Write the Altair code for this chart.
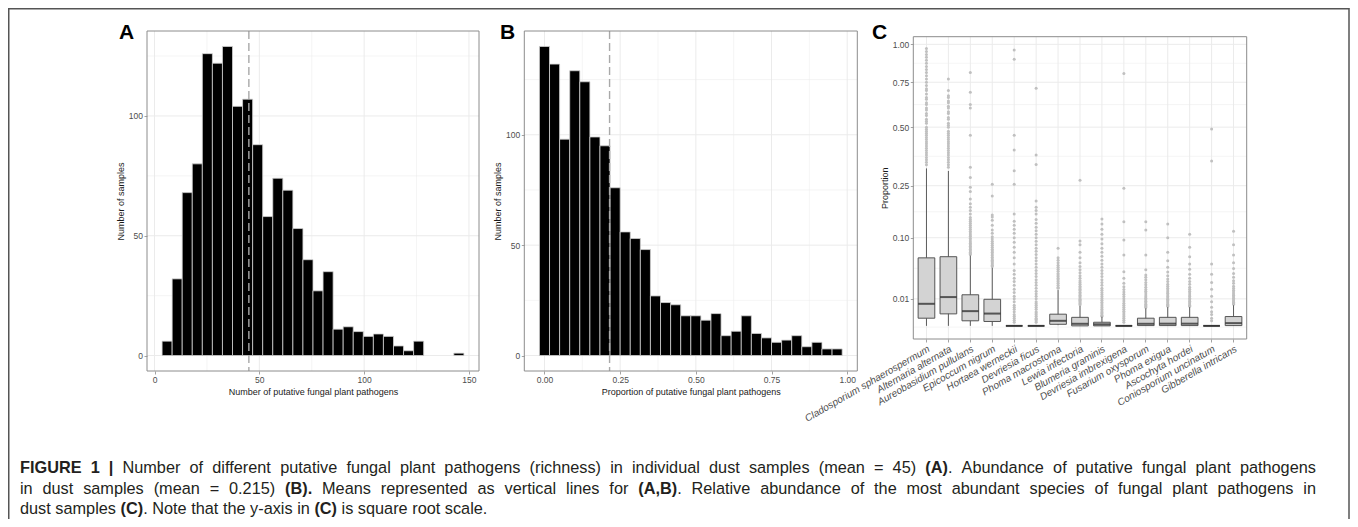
import altair as alt
import pandas as pd

# ---------------- data ----------------
# Panel A: richness histogram (30 bins)
countsA = [6, 32, 68, 80, 126, 122, 129, 104, 107, 88, 58, 74, 69, 53, 40,
           27, 35, 11, 12, 10, 8, 9, 8, 4, 2, 6, 0, 0, 0, 1]
binA_first_edge = 3.6
binA_width = 4.8
meanA = 45

# Panel B: proportion histogram (30 bins)
countsB = [140, 132, 98, 129, 124, 99, 95, 76, 56, 53, 48, 27, 24, 23, 18,
           18, 16, 19, 9, 11, 18, 10, 8, 6, 7, 9, 4, 6, 3, 3]
binB_first_edge = -1 / 60
binB_width = 1 / 30
meanB = 0.215

# Panel C: boxplot statistics
species = ["Cladosporium sphaerospermum", "Alternaria alternata", "Aureobasidium pullulans",
           "Epicoccum nigrum", "Hortaea werneckii", "Devriesia ficus", "Phoma macrostoma",
           "Lewia infectoria", "Blumeria graminis", "Devriesia imbrexigena", "Fusarium oxysporum",
           "Phoma exigua", "Ascochyta hordei", "Coniosporium uncinatum", "Gibberella intricans"]
whisk_lo = [0.00002, 0.00002, 0.00002, 0.00002, 0.00002, 0.00002, 0.00005, 0.00002,
            0.00002, 0.00002, 0.00002, 0.00002, 0.00002, 0.00002, 0.00002]
q1 = [0.0010, 0.0022, 0.0005, 0.0004, 0.00002, 0.00002, 0.0001, 0.00002,
      0.00002, 0.00002, 0.00003, 0.00003, 0.00003, 0.00002, 0.00003]
median = [0.0068, 0.0113, 0.0032, 0.0023, 0.00002, 0.00002, 0.0005, 0.00014,
          0.0001, 0.00002, 0.00014, 0.00015, 0.00015, 0.00002, 0.0002]
q3 = [0.060, 0.062, 0.0131, 0.0097, 0.00002, 0.00002, 0.0021, 0.0012,
      0.0003, 0.00002, 0.0010, 0.0012, 0.0012, 0.00002, 0.0014]
whisk_hi = [0.315, 0.305, 0.064, 0.044, 0.00002, 0.00002, 0.0172, 0.0056,
            0.00135, 0.00002, 0.0044, 0.005, 0.005, 0.00002, 0.006]

outliers = {
    "Cladosporium sphaerospermum": [0.33, 0.34, 0.35, 0.36, 0.37, 0.38, 0.39, 0.40, 0.41, 0.42, 0.43,
                                    0.44, 0.45, 0.46, 0.47, 0.48, 0.49, 0.50, 0.52, 0.53, 0.54, 0.56,
                                    0.57, 0.59, 0.60, 0.62, 0.63, 0.65, 0.66, 0.68, 0.70, 0.71, 0.73,
                                    0.75, 0.77, 0.79, 0.81, 0.83, 0.85, 0.87, 0.89, 0.91, 0.93, 0.95, 0.97],
    "Alternaria alternata": [0.32, 0.33, 0.34, 0.35, 0.36, 0.37, 0.38, 0.39, 0.40, 0.41, 0.42, 0.43,
                             0.44, 0.45, 0.46, 0.47, 0.48, 0.50, 0.51, 0.52, 0.54, 0.55, 0.57, 0.58,
                             0.60, 0.61, 0.63, 0.64, 0.66, 0.67, 0.70, 0.77],
    "Aureobasidium pullulans": [0.066, 0.068, 0.070, 0.073, 0.076, 0.079, 0.082, 0.085, 0.088, 0.091,
                                0.095, 0.099, 0.103, 0.107, 0.111, 0.115, 0.12, 0.125, 0.13, 0.135,
                                0.14, 0.145, 0.15, 0.16, 0.17, 0.18, 0.19, 0.205, 0.23, 0.245, 0.28,
                                0.32, 0.46, 0.60, 0.62, 0.69, 0.81],
    "Epicoccum nigrum": [0.046, 0.048, 0.05, 0.052, 0.054, 0.056, 0.058, 0.061, 0.064, 0.067, 0.07,
                         0.073, 0.076, 0.08, 0.084, 0.088, 0.092, 0.097, 0.102, 0.11, 0.118, 0.13,
                         0.143, 0.152, 0.157, 0.215, 0.255],
    "Hortaea werneckii": [0.0003, 0.0006, 0.001, 0.0015, 0.002, 0.003, 0.004, 0.005, 0.006, 0.008,
                          0.01, 0.012, 0.015, 0.018, 0.022, 0.026, 0.03, 0.035, 0.04, 0.05, 0.06,
                          0.07, 0.08, 0.09, 0.1, 0.11, 0.12, 0.13, 0.14, 0.16, 0.255, 0.306, 0.392,
                          0.46, 0.897, 0.96],
    "Devriesia ficus": [0.0003, 0.0005, 0.0008, 0.001, 0.0015, 0.002, 0.0025, 0.003, 0.004, 0.005,
                        0.006, 0.007, 0.008, 0.01, 0.012, 0.014, 0.016, 0.019, 0.022, 0.025, 0.028,
                        0.032, 0.036, 0.04, 0.045, 0.05, 0.055, 0.06, 0.066, 0.072, 0.078, 0.085,
                        0.092, 0.1, 0.108, 0.116, 0.125, 0.135, 0.145, 0.16, 0.17, 0.18, 0.199,
                        0.331, 0.37, 0.713],
    "Phoma macrostoma": [0.019, 0.02, 0.022, 0.024, 0.026, 0.028, 0.03, 0.032, 0.034, 0.036, 0.039,
                         0.042, 0.045, 0.048, 0.052, 0.056, 0.06, 0.078],
    "Lewia infectoria": [0.0062, 0.0068, 0.0075, 0.0082, 0.009, 0.0098, 0.0107, 0.0117, 0.0128,
                         0.014, 0.0153, 0.0167, 0.018, 0.0195, 0.021, 0.023, 0.025, 0.027, 0.03,
                         0.033, 0.037, 0.041, 0.046, 0.052, 0.06, 0.07, 0.085, 0.093, 0.27],
    "Blumeria graminis": [0.0015, 0.0018, 0.0022, 0.0027, 0.0033, 0.004, 0.0048, 0.0057, 0.0067,
                          0.0078, 0.009, 0.0103, 0.0117, 0.0133, 0.015, 0.017, 0.019, 0.022, 0.025,
                          0.028, 0.032, 0.036, 0.04, 0.045, 0.05, 0.056, 0.063, 0.07, 0.078, 0.087,
                          0.097, 0.108, 0.12, 0.133, 0.146],
    "Devriesia imbrexigena": [0.0003, 0.0006, 0.001, 0.0014, 0.0019, 0.0025, 0.0032, 0.004, 0.005,
                              0.006, 0.0072, 0.0085, 0.01, 0.0117, 0.0135, 0.0155, 0.0178, 0.0204,
                              0.024, 0.03, 0.0384, 0.065, 0.0948, 0.139, 0.241, 0.805],
    "Fusarium oxysporum": [0.0048, 0.0053, 0.0059, 0.0066, 0.0074, 0.0083, 0.0093, 0.0104, 0.0116,
                           0.013, 0.0145, 0.016, 0.0178, 0.02, 0.0225, 0.025, 0.028, 0.031, 0.034,
                           0.041, 0.065, 0.118, 0.139],
    "Phoma exigua": [0.0055, 0.006, 0.0066, 0.0073, 0.008, 0.0088, 0.0097, 0.0107, 0.0118, 0.013,
                     0.0143, 0.0157, 0.0172, 0.019, 0.021, 0.023, 0.026, 0.029, 0.033, 0.038, 0.045,
                     0.055, 0.07, 0.1, 0.133],
    "Ascochyta hordei": [0.0055, 0.006, 0.0067, 0.0075, 0.0084, 0.0094, 0.0105, 0.0117, 0.013,
                         0.0145, 0.016, 0.018, 0.02, 0.023, 0.026, 0.03, 0.035, 0.042, 0.05, 0.062,
                         0.08, 0.108],
    "Coniosporium uncinatum": [0.0005, 0.001, 0.002, 0.003, 0.005, 0.008, 0.012, 0.018, 0.025,
                               0.035, 0.05, 0.345, 0.491],
    "Gibberella intricans": [0.0065, 0.007, 0.0077, 0.0085, 0.0094, 0.0104, 0.0115, 0.0127, 0.014,
                             0.0155, 0.017, 0.019, 0.021, 0.024, 0.027, 0.031, 0.036, 0.043, 0.052,
                             0.065, 0.085, 0.115],
}

# axis breaks
xmajA, xminA = [0, 50, 100, 150], [25, 75, 125]
ymajA, yminA = [0, 50, 100], [25, 75, 125]
xmajB, xminB = [0.0, 0.25, 0.5, 0.75, 1.0], [0.125, 0.375, 0.625, 0.875]
ymajB, yminB = [0, 50, 100], [25, 75, 125]
ymajC = [0.01, 0.1, 0.25, 0.5, 0.75, 1.0]
yminC = [0.0, 0.0433, 0.1665, 0.3648, 0.6194, 0.8705]

caption_lines = [
    "**FIGURE 1 |** Number of different putative fungal plant pathogens (richness) in individual dust samples (mean = 45) **(A)**. Abundance of putative fungal plant pathogens",
    "in dust samples (mean = 0.215) **(B).** Means represented as vertical lines for **(A,B)**. Relative abundance of the most abundant species of fungal plant pathogens in",
    "dust samples **(C)**. Note that the y-axis in **(C)** is square root scale.",
]

# ---------------- layout ----------------
W, H = 1342, 511
PA = dict(x0=139, x1=471, y0=23, y1=363)
PB = dict(x0=516.3, x1=849.3, y0=23, y1=363)
PC = dict(x0=905.3, x1=1238.7, y0=28.7, y1=331)
domXA, domYA = [-3.6, 154.8], [-6.45, 135.45]
domXB, domYB = [-1 / 60 - 0.05, 59 / 60 + 0.05], [-7, 147]
domYC = [-0.00176, 1.0547]

GRID = "#ebebeb"
BORDER = "#8c8c8c"
TICKC = "#8c8c8c"
LABC = "#4d4d4d"
FONT = "Liberation Sans"


def common_axis(**kw):
    base = dict(grid=False, domain=False, ticks=True, tickColor=TICKC, tickSize=3, tickWidth=0.8,
                labelFontSize=8.5, labelColor=LABC, labelPadding=1.5, labelFlush=False,
                labelOverlap=False, titleFontSize=9, titleFontWeight="normal",
                titleColor="#1a1a1a", titlePadding=3, labelFont=FONT, titleFont=FONT)
    base.update(kw)
    return alt.Axis(**base)


def grid_layers(xs, ys, P, xmaj, xmin, ymaj, ymin, xtype="quantitative"):
    out = []
    for vals, w in ((xmin, 0.5), (xmaj, 1.0)):
        if vals:
            out.append(alt.Chart(pd.DataFrame({"v": vals})).mark_rule(color=GRID, strokeWidth=w).encode(
                x=alt.X("v", type=xtype, scale=xs(), axis=None),
                y=alt.value(P["y0"]), y2=alt.value(P["y1"])))
    for vals, w in ((ymin, 0.5), (ymaj, 1.0)):
        out.append(alt.Chart(pd.DataFrame({"v": vals})).mark_rule(color=GRID, strokeWidth=w).encode(
            y=alt.Y("v:Q", scale=ys(), axis=None),
            x=alt.value(P["x0"]), x2=alt.value(P["x1"])))
    return out


def border_layer(P):
    return alt.Chart(pd.DataFrame({"d": [0]})).mark_rect(
        fill="transparent", stroke=BORDER, strokeWidth=1).encode(
        x=alt.value(P["x0"]), x2=alt.value(P["x1"]), y=alt.value(P["y0"]), y2=alt.value(P["y1"]))


def hist_panel(counts, first, width, mean, domx, domy, P, xmaj, xmin, ymaj, ymin, xtitle, xfmt):
    df = pd.DataFrame({"count": counts})
    df["left"] = [first + i * width for i in range(len(counts))]
    df["right"] = df["left"] + width
    df["base"] = 0
    df = df[df["count"] > 0]

    def xs():
        return alt.Scale(domain=domx, range=[P["x0"], P["x1"]], nice=False, zero=False)

    def ys():
        return alt.Scale(domain=domy, range=[P["y1"], P["y0"]], nice=False, zero=False)

    layers = grid_layers(xs, ys, P, xmaj, xmin, ymaj, ymin)
    bars = alt.Chart(df).mark_rect(color="black", stroke="#d2d2d2", strokeWidth=0.8).encode(
        x=alt.X("left:Q", scale=xs(),
                axis=common_axis(orient="bottom", offset=P["y1"] - H, values=xmaj, format=xfmt,
                                 title=xtitle)),
        x2="right:Q",
        y=alt.Y("base:Q", scale=ys(),
                axis=common_axis(orient="left", offset=-P["x0"], values=ymaj, format="d",
                                 title="Number of samples")),
        y2="count:Q")
    layers.append(bars)
    layers.append(alt.Chart(pd.DataFrame({"m": [mean]})).mark_rule(
        color="#a9a9a9", strokeDash=[8, 4], strokeWidth=1.4).encode(
        x=alt.X("m:Q", scale=xs(), axis=None), y=alt.value(P["y0"]), y2=alt.value(P["y1"])))
    layers.append(border_layer(P))
    return layers


layers = []
layers += hist_panel(countsA, binA_first_edge, binA_width, meanA, domXA, domYA, PA,
                     xmajA, xminA, ymajA, yminA, "Number of putative fungal plant pathogens", "d")
layers += hist_panel(countsB, binB_first_edge, binB_width, meanB, domXB, domYB, PB,
                     xmajB, xminB, ymajB, yminB, "Proportion of putative fungal plant pathogens", ".2f")

# ---------------- panel C ----------------


def xsC():
    return alt.Scale(type="band", domain=species, range=[PC["x0"], PC["x1"]],
                     paddingInner=0, paddingOuter=0.1)


def ysC():
    return alt.Scale(type="sqrt", domain=domYC, range=[PC["y1"], PC["y0"]], nice=False, zero=False)


layers += grid_layers(xsC, ysC, PC, species, [], ymajC, yminC, xtype="nominal")

stats = pd.DataFrame({"species": species, "lo": whisk_lo, "q1": q1, "med": median,
                      "q3": q3, "hi": whisk_hi})
out_rows = [{"species": s, "value": v} for s in species for v in outliers[s]]
outdf = pd.DataFrame(out_rows)

layers.append(alt.Chart(outdf).mark_circle(size=9, color="#c0c0c0", opacity=1).encode(
    x=alt.X("species:N", scale=xsC(), axis=None),
    y=alt.Y("value:Q", scale=ysC(), axis=None)))
layers.append(alt.Chart(stats).mark_rule(color="#5a5a5a", strokeWidth=1).encode(
    x=alt.X("species:N", scale=xsC(), axis=None),
    y=alt.Y("lo:Q", scale=ysC(), axis=None), y2="hi:Q"))
layers.append(alt.Chart(stats).mark_bar(width={"band": 0.76}, color="#d3d3d3", stroke="#555555",
                                        strokeWidth=1).encode(
    x=alt.X("species:N", scale=xsC(),
            axis=common_axis(orient="bottom", offset=PC["y1"] - H, title=None, labelAngle=330,
                             labelAlign="right", labelBaseline="top", labelFontStyle="italic",
                             labelFontSize=10)),
    y=alt.Y("q1:Q", scale=ysC(),
            axis=common_axis(orient="left", offset=-PC["x0"], values=ymajC, format=".2f",
                             title="Proportion")),
    y2="q3:Q"))
layers.append(alt.Chart(stats).mark_tick(thickness=2, size=16.5, color="#1f1f1f").encode(
    x=alt.X("species:N", scale=xsC(), axis=None),
    y=alt.Y("med:Q", scale=ysC(), axis=None)))
layers.append(border_layer(PC))

# ---------------- panel letters ----------------
for letter, lx in (("A", 111), ("B", 492), ("C", 864)):
    layers.append(alt.Chart(pd.DataFrame({"d": [0]})).mark_text(
        fontSize=21, fontWeight="bold", align="left", baseline="alphabetic", color="black",
        font=FONT).encode(x=alt.value(lx), y=alt.value(31), text=alt.value(letter)))

# ---------------- caption (justified, mixed bold) ----------------
AR = {' ': 278, '(': 333, ')': 333, ',': 278, '-': 333, '.': 278, '|': 260, '=': 584}
for d in "0123456789":
    AR[d] = 556
AR.update({'A': 667, 'B': 667, 'C': 722, 'D': 722, 'E': 667, 'F': 611, 'G': 778, 'H': 722,
           'I': 278, 'J': 500, 'K': 667, 'L': 556, 'M': 833, 'N': 722, 'O': 778, 'P': 667,
           'Q': 778, 'R': 722, 'S': 667, 'T': 611, 'U': 722, 'V': 667, 'W': 944, 'X': 667,
           'Y': 667, 'Z': 611,
           'a': 556, 'b': 556, 'c': 500, 'd': 556, 'e': 556, 'f': 278, 'g': 556, 'h': 556,
           'i': 222, 'j': 222, 'k': 500, 'l': 222, 'm': 833, 'n': 556, 'o': 556, 'p': 556,
           'q': 556, 'r': 333, 's': 500, 't': 278, 'u': 556, 'v': 500, 'w': 722, 'x': 500,
           'y': 500, 'z': 500})
ARB = {' ': 278, '(': 333, ')': 333, ',': 278, '.': 278, '|': 280,
       'A': 722, 'B': 722, 'C': 722, 'E': 667, 'F': 611, 'G': 778, 'I': 278, 'R': 722, 'U': 722}
for d in "0123456789":
    ARB[d] = 556

CAP_FS = 16.3
CAP_X0 = 12
CAP_X1 = 1308
CAP_Y = [464.5, 485.5, 506]


def tw(s, bold):
    tab = ARB if bold else AR
    return sum(tab.get(c, 556) for c in s) * CAP_FS / 1000


def parse(line):
    parts = line.split("**")
    words = [[]]
    for i, p in enumerate(parts):
        bold = i % 2 == 1
        pieces = p.split(" ")
        for j, piece in enumerate(pieces):
            if j > 0:
                words.append([])
            if piece:
                words[-1].append((piece, bold))
    return [w for w in words if w]


cap_rows = []
for li, line in enumerate(caption_lines):
    words = parse(line)
    widths = [sum(tw(t, b) for t, b in w) for w in words]
    justify = li < len(caption_lines) - 1
    if justify:
        gap = (CAP_X1 - CAP_X0 - sum(widths)) / (len(words) - 1)
    else:
        gap = tw(" ", False)
    x = CAP_X0
    for w, wd in zip(words, widths):
        xx = x
        for t, b in w:
            cap_rows.append({"t": t, "x": xx, "y": CAP_Y[li], "bold": b})
            xx += tw(t, b)
        x += wd + gap
cap = pd.DataFrame(cap_rows)

for bold in (False, True):
    layers.append(alt.Chart(cap[cap["bold"] == bold]).mark_text(
        fontSize=CAP_FS, font=FONT, fontWeight="bold" if bold else "normal", align="left",
        baseline="alphabetic", color="#231f20").encode(
        x=alt.X("x:Q", scale=None, axis=None), y=alt.Y("y:Q", scale=None, axis=None),
        text="t:N"))

# outer frame
layers.append(alt.Chart(pd.DataFrame({"d": [0]})).mark_rect(
    fill="transparent", stroke="#555555", strokeWidth=1.5).encode(
    x=alt.value(0.75), x2=alt.value(W - 1), y=alt.value(0.75), y2=alt.value(H + 40)))

chart = alt.layer(*layers).resolve_scale(x="independent", y="independent").properties(
    width=W, height=H, autosize=alt.AutoSizeParams(type="none"), padding=0
).configure_view(strokeWidth=0).configure(font=FONT)

chart.save("out.html", embed_options={"renderer": "svg", "actions": False})
